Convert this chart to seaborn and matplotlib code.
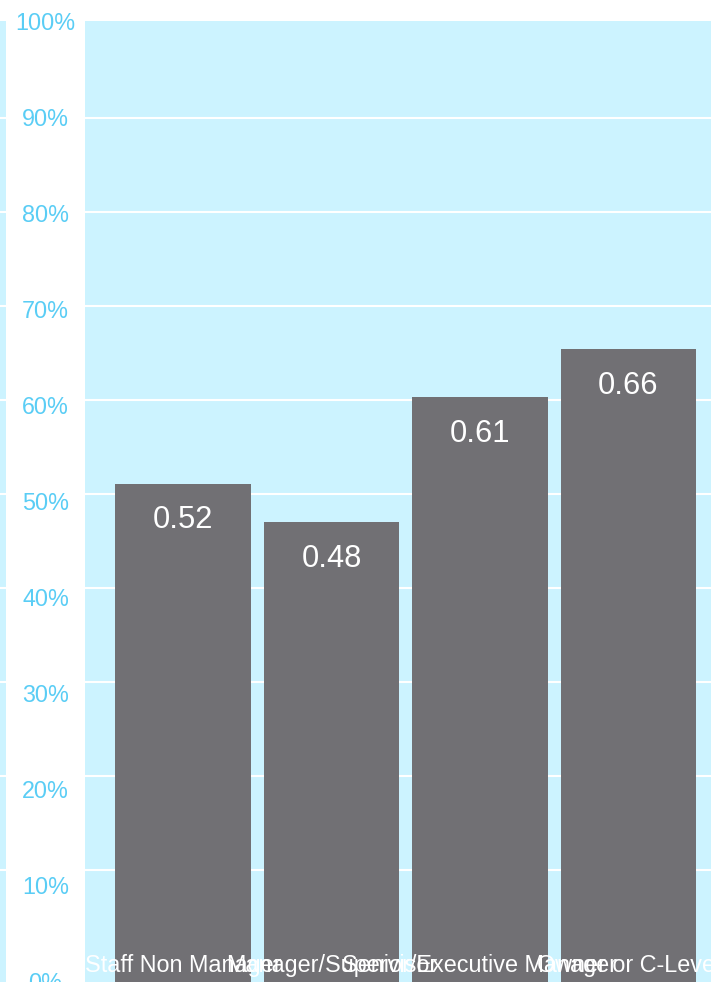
import matplotlib
matplotlib.use("Agg")
import matplotlib.pyplot as plt
import seaborn as sns
import pandas as pd

# ---- data ----
categories = ["Staff Non Manager", "Manager/Supervisor", "Senior/Executive Manager", "Owner or C-Level"]
values = [0.52, 0.48, 0.61, 0.66]
tick_values = [0.0, 0.1, 0.2, 0.3, 0.4, 0.5, 0.6, 0.7, 0.8, 0.9, 1.0]
tick_labels = ["0%", "10%", "20%", "30%", "40%", "50%", "60%", "70%", "80%", "90%", "100%"]

BG = "#CCF3FF"
BAR = "#717074"
TICK = "#5ACDF5"

sns.set_theme(style="white")
plt.rcParams["font.family"] = ["Liberation Sans", "DejaVu Sans"]

W, H = 711, 982
fig = plt.figure(figsize=(W / 100, H / 100), dpi=100)
fig.patch.set_facecolor("white")

def fx(px):
    return px / W

def fy(px_from_top):
    return (H - px_from_top) / H

# background axes with gridlines
ax_bg = fig.add_axes([0, fy(983), fx(740), (983 - 21.5) / H])
ax_bg.set_facecolor(BG)
ax_bg.set_ylim(-0.0202, 1.00266)
ax_bg.set_xlim(0, 1)
ax_bg.set_yticks(tick_values[1:-1])
ax_bg.set_xticks([])
ax_bg.yaxis.grid(True, color="white", linewidth=1.5)
ax_bg.tick_params(left=False, labelleft=False)
for s in ax_bg.spines.values():
    s.set_visible(False)
ax_bg.set_zorder(0)

# white label column
ax_lab = fig.add_axes([fx(6), 0, fx(79), 1])
ax_lab.set_facecolor("white")
ax_lab.set_ylim(-1 / 960, 981 / 960)
ax_lab.set_xlim(0, 1)
ax_lab.set_xticks([])
ax_lab.set_yticks([])
for s in ax_lab.spines.values():
    s.set_visible(False)
for v, lab in zip(tick_values, tick_labels):
    ax_lab.text(0.5, v, lab, transform=ax_lab.get_yaxis_transform(),
                ha="center", va="center_baseline", color=TICK, fontsize=16.8)
ax_lab.set_zorder(1)

# bar axes
ax = fig.add_axes([fx(85), fy(983), fx(641.5), 960 / H])
ax.patch.set_alpha(0)
df = pd.DataFrame({"category": categories, "value": values})
sns.barplot(data=df, x="category", y="value", color=BAR, saturation=1,
            width=0.912, ax=ax, edgecolor="none")
ax.set_ylim(0, 1)
ax.set_xlim(-0.66, 3.66)
ax.set_xticks([])
ax.set_yticks([])
ax.set_xlabel("")
ax.set_ylabel("")
for s in ax.spines.values():
    s.set_visible(False)
ax.grid(False)
for c in ax.containers:
    ax.bar_label(c, fmt="%.2f", color="white", fontsize=22.2, padding=-37)
for i, cat in enumerate(categories):
    ax.annotate(cat, xy=(i, 0), xycoords=("data", "axes fraction"),
                xytext=(0, 8.1), textcoords="offset points",
                ha="center", va="baseline", color="white", fontsize=16.8)
ax.set_zorder(2)

fig.savefig("out.png", dpi=100)
